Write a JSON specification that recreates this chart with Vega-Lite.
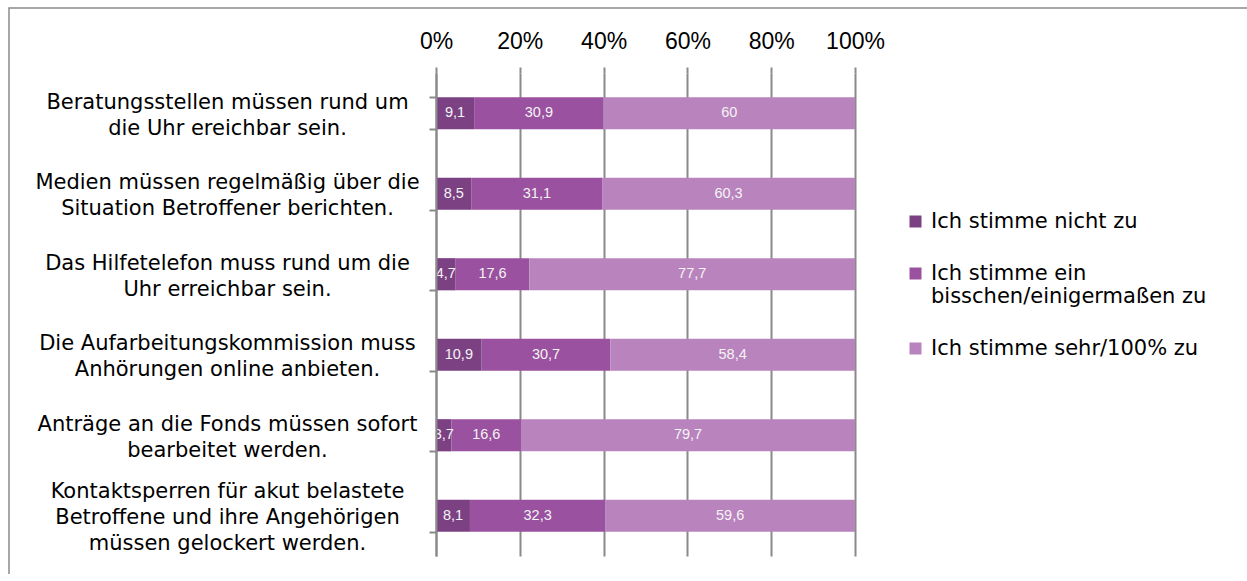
{
  "$schema": "https://vega.github.io/schema/vega-lite/v6.json",
  "width": 1298,
  "height": 593,
  "autosize": {"type": "none"},
  "padding": {"left": 9, "top": 8, "right": -60, "bottom": -27},
  "background": "white",
  "config": {
    "view": {"stroke": "#8a8a8a", "strokeWidth": 1.5, "fill": "white"},
    "locale": {"number": {"decimal": ",", "thousands": ".", "grouping": [3], "currency": ["", " €"]}}
  },
  "data": {
    "values": [
      {"q": "Beratungsstellen müssen rund um\ndie Uhr ereichbar sein.", "c": "Ich stimme nicht zu", "k": 1, "v": 9.1},
      {"q": "Beratungsstellen müssen rund um\ndie Uhr ereichbar sein.", "c": "Ich stimme ein bisschen/einigermaßen zu", "k": 2, "v": 30.9},
      {"q": "Beratungsstellen müssen rund um\ndie Uhr ereichbar sein.", "c": "Ich stimme sehr/100% zu", "k": 3, "v": 60},
      {"q": "Medien müssen regelmäßig über die\nSituation Betroffener berichten.", "c": "Ich stimme nicht zu", "k": 1, "v": 8.5},
      {"q": "Medien müssen regelmäßig über die\nSituation Betroffener berichten.", "c": "Ich stimme ein bisschen/einigermaßen zu", "k": 2, "v": 31.1},
      {"q": "Medien müssen regelmäßig über die\nSituation Betroffener berichten.", "c": "Ich stimme sehr/100% zu", "k": 3, "v": 60.3},
      {"q": "Das Hilfetelefon muss rund um die\nUhr erreichbar sein.", "c": "Ich stimme nicht zu", "k": 1, "v": 4.7},
      {"q": "Das Hilfetelefon muss rund um die\nUhr erreichbar sein.", "c": "Ich stimme ein bisschen/einigermaßen zu", "k": 2, "v": 17.6},
      {"q": "Das Hilfetelefon muss rund um die\nUhr erreichbar sein.", "c": "Ich stimme sehr/100% zu", "k": 3, "v": 77.7},
      {"q": "Die Aufarbeitungskommission muss\nAnhörungen online anbieten.", "c": "Ich stimme nicht zu", "k": 1, "v": 10.9},
      {"q": "Die Aufarbeitungskommission muss\nAnhörungen online anbieten.", "c": "Ich stimme ein bisschen/einigermaßen zu", "k": 2, "v": 30.7},
      {"q": "Die Aufarbeitungskommission muss\nAnhörungen online anbieten.", "c": "Ich stimme sehr/100% zu", "k": 3, "v": 58.4},
      {"q": "Anträge an die Fonds müssen sofort\nbearbeitet werden.", "c": "Ich stimme nicht zu", "k": 1, "v": 3.7},
      {"q": "Anträge an die Fonds müssen sofort\nbearbeitet werden.", "c": "Ich stimme ein bisschen/einigermaßen zu", "k": 2, "v": 16.6},
      {"q": "Anträge an die Fonds müssen sofort\nbearbeitet werden.", "c": "Ich stimme sehr/100% zu", "k": 3, "v": 79.7},
      {"q": "Kontaktsperren für akut belastete\nBetroffene und ihre Angehörigen\nmüssen gelockert werden.", "c": "Ich stimme nicht zu", "k": 1, "v": 8.1},
      {"q": "Kontaktsperren für akut belastete\nBetroffene und ihre Angehörigen\nmüssen gelockert werden.", "c": "Ich stimme ein bisschen/einigermaßen zu", "k": 2, "v": 32.3},
      {"q": "Kontaktsperren für akut belastete\nBetroffene und ihre Angehörigen\nmüssen gelockert werden.", "c": "Ich stimme sehr/100% zu", "k": 3, "v": 59.6}
    ]
  },
  "transform": [
    {"stack": "v", "groupby": ["q"], "offset": "normalize", "sort": [{"field": "k", "order": "ascending"}], "as": ["x0", "x1"]},
    {"calculate": "(datum.x0 + datum.x1) / 2", "as": "mid"}
  ],
  "encoding": {
    "y": {
      "field": "q",
      "type": "nominal",
      "sort": null,
      "scale": {"range": [65, 548], "paddingInner": 0.6, "paddingOuter": 0.3},
      "axis": {
        "title": null,
        "orient": "left",
        "offset": -427,
        "zindex": 1,
        "tickBand": "extent",
        "ticks": true,
        "tickSize": 7,
        "tickColor": "#8a8a8a",
        "tickWidth": 2,
        "domainColor": "#8a8a8a",
        "domainWidth": 2,
        "grid": false,
        "labelAlign": "center",
        "labelBaseline": "middle",
        "labelPadding": 202,
        "labelOffset": {"condition": {"test": "length(split(datum.label, '\\n')) > 2", "value": -24}, "value": -11},
        "labelFont": "DejaVu Sans",
        "labelFontSize": 21,
        "labelLineHeight": 26,
        "labelColor": "#000000",
        "labelLimit": 600,
        "labelExpr": "split(datum.label, '\\n')"
      }
    }
  },
  "layer": [
    {
      "mark": {"type": "bar"},
      "encoding": {
        "x": {
          "field": "x0",
          "type": "quantitative",
          "scale": {"domain": [0, 1], "range": [427, 846], "nice": false},
          "axis": {
            "title": null,
            "orient": "top",
            "offset": -65,
            "values": [0, 0.2, 0.4, 0.6, 0.8, 1],
            "format": ".0%",
            "domain": false,
            "grid": true,
            "gridColor": "#8a8a8a",
            "gridWidth": 2,
            "ticks": true,
            "tickSize": 6,
            "tickColor": "#8a8a8a",
            "tickWidth": 2,
            "labelPadding": 14,
            "labelFont": "Liberation Sans",
            "labelFontSize": 23,
            "labelColor": "#000000",
            "labelFlush": false,
            "labelOverlap": false
          }
        },
        "x2": {"field": "x1"},
        "color": {
          "field": "c",
          "type": "nominal",
          "scale": {
            "domain": ["Ich stimme nicht zu", "Ich stimme ein bisschen/einigermaßen zu", "Ich stimme sehr/100% zu"],
            "range": ["#7b4183", "#9a519f", "#b983be"]
          },
          "legend": {
            "title": null,
            "orient": "none",
            "legendX": 896,
            "legendY": 203,
            "padding": 0,
            "symbolType": "square",
            "symbolSize": 144,
            "symbolStrokeWidth": 0,
            "labelFont": "DejaVu Sans",
            "labelFontSize": 21,
            "labelColor": "#000000",
            "labelOffset": 5,
            "labelLimit": 500,
            "rowPadding": 30,
            "labelExpr": "datum.label == 'Ich stimme ein bisschen/einigermaßen zu' ? ['Ich stimme ein', 'bisschen/einigermaßen zu'] : datum.label"
          }
        }
      }
    },
    {
      "mark": {"type": "text", "color": "#f4f4f4", "font": "Liberation Sans", "fontSize": 14.5, "align": "center", "baseline": "middle"},
      "encoding": {
        "x": {"field": "mid", "type": "quantitative"},
        "text": {"field": "v", "type": "quantitative", "format": ".3~r"}
      }
    }
  ]
}
